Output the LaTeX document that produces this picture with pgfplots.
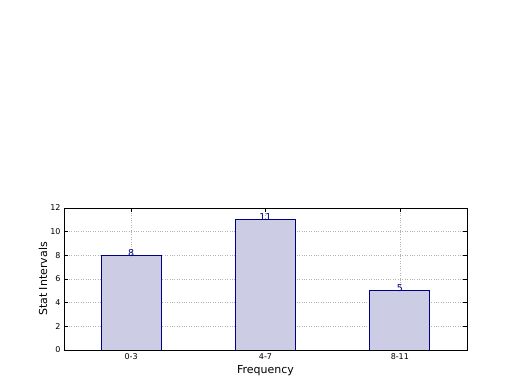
\documentclass[border=0pt]{standalone}
\usepackage{pgfplots}
\pgfplotsset{compat=1.18}
\usepackage{fontspec}
\setmainfont{DejaVu Sans}
\definecolor{barfill}{RGB}{204,204,229}
\definecolor{navyc}{RGB}{0,0,128}
\begin{document}
\begin{tikzpicture}
\begin{axis}[
  scale only axis, width=403pt, height=142pt,
  xmin=-0.5, xmax=2.5, ymin=0, ymax=12,
  ytick={0,2,...,12},
  xtick={0,1,2}, xticklabels={0-3,4-7,8-11},
  ybar, bar width=60pt,
  grid=major,
  grid style={dotted, line width=0.5pt, gray!60},
  tick align=inside, major tick length=4pt,
  tick style={black, line width=0.6pt},
  axis line style={line width=0.8pt},
  ticklabel style={font=\fontsize{8}{9}\selectfont},
  /pgf/number format/assume math mode=true,
  xlabel={Frequency}, ylabel={Stat Intervals},
  every axis x label/.style={at={(rel axis cs:0.5,0)}, yshift=-21pt, anchor=center, font=\fontsize{11}{12}\selectfont},
  every axis y label/.style={at={(rel axis cs:0,0.5)}, xshift=-21pt, rotate=90, anchor=center, font=\fontsize{11}{12}\selectfont},
  nodes near coords,
  nodes near coords style={navyc, font=\fontsize{9.5}{10}\selectfont, anchor=south, inner sep=0pt, yshift=-1.5pt},
]
\addplot[fill=barfill, draw=navyc, line width=0.8pt] coordinates {(0,8) (1,11) (2,5)};
\coordinate (o) at (rel axis cs:0,0);
\end{axis}
\pgfresetboundingbox
\path[use as bounding box] ([shift={(-64pt,-40pt)}]o) rectangle ([shift={(456pt,350pt)}]o);
\end{tikzpicture}
\end{document}
